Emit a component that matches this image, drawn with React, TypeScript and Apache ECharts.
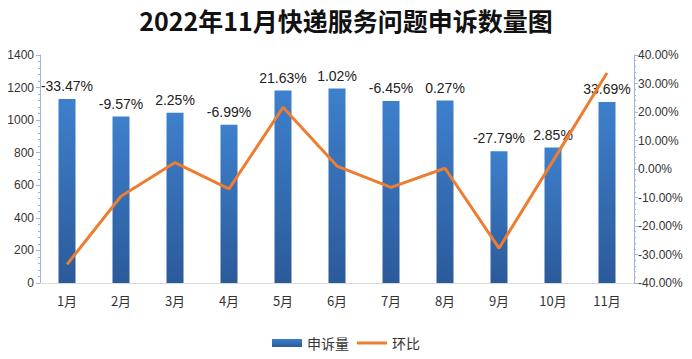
import React, { useEffect, useRef } from "react";
import * as echarts from "echarts";

const months = ["1月", "2月", "3月", "4月", "5月", "6月", "7月", "8月", "9月", "10月", "11月"];
const complaints = [1130, 1022, 1045, 972, 1182, 1194, 1117, 1120, 809, 832, 1112];
const momPct = [-33.47, -9.57, 2.25, -6.99, 21.63, 1.02, -6.45, 0.27, -27.79, 2.85, 33.69];
const leftTicks = [0, 200, 400, 600, 800, 1000, 1200, 1400];
const rightTicks = [-40, -30, -20, -10, 0, 10, 20, 30, 40];

export default function App() {
  const ref = useRef<HTMLDivElement>(null);
  useEffect(() => {
    if (!ref.current) return;
    const chart = echarts.init(ref.current, undefined, { renderer: "svg" });
    const axisColor = "#9fb7d6";
    chart.setOption({
      animation: false,
      backgroundColor: "#ffffff",
      title: {
        text: "2022年11月快递服务问题申诉数量图",
        left: "center",
        top: 2,
        textStyle: { fontSize: 25, fontWeight: "bold", color: "#111", fontFamily: "Noto Sans CJK SC" },
      },
      grid: { left: 40, right: 58, top: 55, bottom: 76 },
      legend: {
        bottom: 4,
        left: "center",
        itemWidth: 30,
        itemHeight: 8,
        itemGap: 8,
        textStyle: { fontSize: 14, color: "#333", fontFamily: "Noto Sans CJK SC" },
        data: [
          { name: "申诉量", icon: "rect" },
          { name: "环比", icon: "path://M0,0 L30,0 L30,3 L0,3 Z" },
        ],
      },
      xAxis: {
        type: "category",
        data: months,
        axisLine: { lineStyle: { color: "#d9d9d9", width: 1 } },
        axisTick: { show: false },
        axisLabel: { fontSize: 13, color: "#333", margin: 11, fontFamily: "Noto Sans CJK SC" },
      },
      yAxis: [
        {
          type: "value",
          min: leftTicks[0],
          max: leftTicks[leftTicks.length - 1],
          interval: 200,
          axisLine: { show: true, lineStyle: { color: axisColor } },
          axisTick: { show: true, length: 4, lineStyle: { color: axisColor } },
          minorTick: { show: true, splitNumber: 5, length: 2, lineStyle: { color: axisColor } },
          splitLine: { show: false },
          axisLabel: {
            fontSize: 12,
            color: "#333",
            margin: 6,
            fontFamily: "Liberation Sans",
            formatter: (v: number) => String(v),
          },
        },
        {
          type: "value",
          min: rightTicks[0],
          max: rightTicks[rightTicks.length - 1],
          interval: 10,
          axisLine: { show: true, lineStyle: { color: axisColor } },
          axisTick: { show: true, length: 4, lineStyle: { color: axisColor } },
          minorTick: { show: true, splitNumber: 5, length: 2, lineStyle: { color: axisColor } },
          splitLine: { show: false },
          axisLabel: {
            fontSize: 12,
            color: "#333",
            margin: 4,
            fontFamily: "Liberation Sans",
            formatter: (v: number) => v.toFixed(2) + "%",
          },
        },
      ],
      series: [
        {
          name: "申诉量",
          type: "bar",
          data: complaints,
          barWidth: 17,
          itemStyle: {
            color: new echarts.graphic.LinearGradient(0, 0, 0, 1, [
              { offset: 0, color: "#3e80cc" },
              { offset: 1, color: "#2b5a9a" },
            ]),
          },
          label: {
            show: true,
            position: "top",
            distance: 6,
            fontSize: 14,
            color: "#222",
            fontFamily: "Liberation Sans",
            formatter: (p: any) => momPct[p.dataIndex].toFixed(2) + "%",
          },
        },
        {
          name: "环比",
          type: "line",
          yAxisIndex: 1,
          data: momPct,
          symbol: "none",
          lineStyle: { color: "#ed7d31", width: 3 },
          itemStyle: { color: "#ed7d31" },
          z: 3,
        },
      ],
    });
    return () => chart.dispose();
  }, []);
  return <div ref={ref} style={{ position: "fixed", left: 0, top: 0, width: 692, height: 359 }} />;
}
